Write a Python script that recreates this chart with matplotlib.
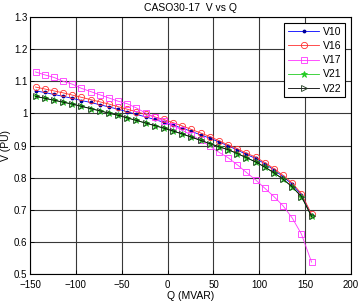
import matplotlib
matplotlib.use("Agg")
import matplotlib.pyplot as plt
import numpy as np

plt.rcParams.update({"font.family": ["Liberation Sans", "DejaVu Sans"], "font.size": 7})

# Q (MVAR) en cada paso
Q = [-144, -134, -124, -114, -104, -94, -84, -74, -64, -54, -44, -34, -24, -14, -4,
     6, 16, 26, 36, 46, 56, 66, 76, 86, 96, 106, 116, 126, 136, 146, 157]

V16 = [1.082, 1.076, 1.070, 1.064, 1.057, 1.050, 1.043, 1.036, 1.029, 1.021, 1.013,
       1.005, 0.997, 0.989, 0.981, 0.971, 0.961, 0.950, 0.939, 0.928, 0.915, 0.902,
       0.890, 0.876, 0.864, 0.847, 0.828, 0.807, 0.783, 0.750, 0.686]
V10 = [1.070, 1.065, 1.059, 1.053, 1.047, 1.040, 1.034, 1.027, 1.020, 1.013, 1.005,
       0.997, 0.989, 0.981, 0.972, 0.963, 0.954, 0.944, 0.933, 0.923, 0.911, 0.899,
       0.886, 0.872, 0.860, 0.843, 0.824, 0.803, 0.779, 0.746, 0.683]
V17 = [1.129, 1.120, 1.112, 1.100, 1.091, 1.078, 1.068, 1.058, 1.048, 1.038, 1.030,
       1.017, 1.001, 0.988, 0.976, 0.962, 0.947, 0.933, 0.917, 0.898, 0.879, 0.862,
       0.840, 0.816, 0.793, 0.767, 0.741, 0.712, 0.674, 0.624, 0.537]
V21 = [1.053, 1.047, 1.041, 1.035, 1.029, 1.022, 1.015, 1.008, 1.001, 0.994, 0.986,
       0.978, 0.970, 0.962, 0.954, 0.945, 0.936, 0.926, 0.916, 0.906, 0.896, 0.887,
       0.875, 0.862, 0.849, 0.833, 0.815, 0.795, 0.771, 0.741, 0.679]
V22 = [1.053, 1.047, 1.041, 1.035, 1.029, 1.022, 1.015, 1.008, 1.001, 0.994, 0.986,
       0.978, 0.970, 0.962, 0.954, 0.945, 0.936, 0.926, 0.916, 0.906, 0.896, 0.887,
       0.875, 0.862, 0.849, 0.833, 0.815, 0.795, 0.771, 0.741, 0.679]

fig = plt.figure(figsize=(3.61, 3.02), dpi=100)
ax = fig.add_axes([30/361, 28/302, 321/361, 257/302])

lw = 0.6
ax.plot(Q, V10, "-", color="#0000ff", lw=lw, marker=".", ms=3.5, mfc="#000099", mec="#000099", label="V10")
ax.plot(Q, V16, "-", color="#ff3030", lw=lw, marker="o", ms=4.5, mfc="none", mec="#ff3030", mew=0.6, label="V16")
ax.plot(Q, V17, "-", color="#ff33ff", lw=lw, marker="s", ms=4.5, mfc="none", mec="#ff33ff", mew=0.6, label="V17")
ax.plot(Q, V21, "-", color="#22cc22", lw=lw, marker="*", ms=4.5, mfc="#22cc22", mec="#22cc22", mew=0.6, label="V21")
ax.plot(Q, V22, "-", color="k", lw=lw, marker=">", ms=4.5, mfc="none", mec="#1f3a1f", mew=0.6, label="V22")

ax.set_xlim(-150, 200)
ax.set_ylim(0.5, 1.3)
ax.set_xticks(np.arange(-150, 201, 50))
ax.set_yticks(np.arange(0.5, 1.31, 0.1))
ax.set_yticklabels(["0.5", "0.6", "0.7", "0.8", "0.9", "1", "1.1", "1.2", "1.3"])
ax.tick_params(direction="in", length=3, width=0.6, pad=2, labelsize=7)
ax.tick_params(axis="x", pad=4)
ax.grid(True, color="#383838", lw=0.8)
for s in ax.spines.values():
    s.set_linewidth(0.8)

ax.set_title("CASO30-17  V vs Q", fontsize=7.5, pad=4)
ax.set_xlabel("Q (MVAR)", fontsize=7.5, labelpad=1)
ax.set_ylabel("V (PU)", fontsize=7.5, labelpad=2)

leg = ax.legend(loc="upper right", fontsize=7.5, fancybox=False, framealpha=1,
                edgecolor="k", handlelength=3, borderpad=0.35, labelspacing=0.4,
                handletextpad=0.3, borderaxespad=0.6)
leg.get_frame().set_linewidth(0.8)

fig.savefig("out.png", dpi=100)
